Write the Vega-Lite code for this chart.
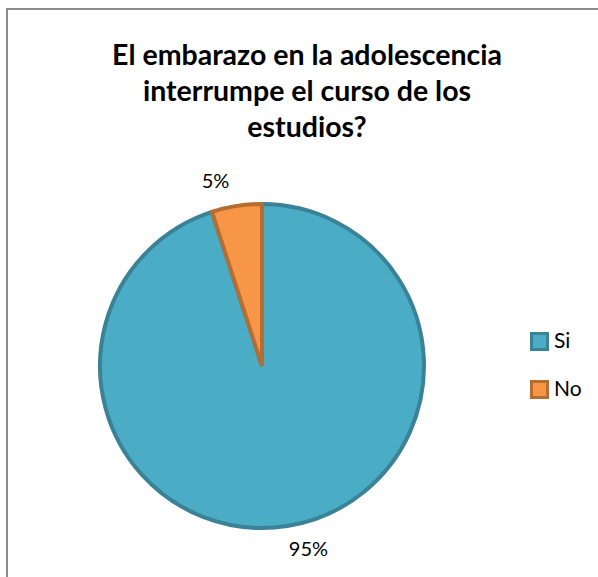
{
  "$schema": "https://vega.github.io/schema/vega-lite/v6.json",
  "width": 600,
  "height": 600,
  "autosize": "none",
  "padding": {"left": 7, "top": 9, "right": 0, "bottom": 0},
  "background": "white",
  "view": {"stroke": "#8c8c8c", "strokeWidth": 2},
  "config": {
    "legend": {
      "orient": "none",
      "legendX": 522,
      "legendY": 322,
      "padding": 0,
      "symbolType": "square",
      "symbolSize": 256,
      "symbolStrokeWidth": 3,
      "labelFont": "Lato",
      "labelFontSize": 21,
      "labelColor": "#000000",
      "labelOffset": 4,
      "rowPadding": 19,
      "title": null
    }
  },
  "title": {
    "text": ["El embarazo en la adolescencia", "interrumpe el curso de los", "estudios?"],
    "font": "Lato",
    "fontSize": 28.5,
    "fontWeight": "bold",
    "color": "#000000",
    "lineHeight": 36,
    "anchor": "middle",
    "baseline": "top",
    "offset": -133
  },
  "data": {
    "values": [
      {"answer": "Si", "value": 95, "label": "95%", "order": 1},
      {"answer": "No", "value": 5, "label": "5%", "order": 2}
    ]
  },
  "encoding": {
    "theta": {"field": "value", "type": "quantitative", "stack": true},
    "order": {"field": "order", "type": "quantitative"}
  },
  "layer": [
    {
      "mark": {"type": "arc", "outerRadius": 162, "strokeWidth": 4, "x": 255, "y": 357},
      "encoding": {
        "color": {
          "field": "answer",
          "type": "nominal",
          "scale": {"domain": ["Si", "No"], "range": ["#4BACC6", "#F79646"]}
        },
        "stroke": {
          "field": "answer",
          "type": "nominal",
          "scale": {"domain": ["Si", "No"], "range": ["#3A8297", "#B66D31"]}
        }
      }
    },
    {
      "mark": {"type": "text", "radius": 190, "thetaOffset": -0.09, "x": 255, "y": 357, "font": "Lato", "fontSize": 20, "color": "#000000"},
      "encoding": {
        "text": {"field": "label", "type": "nominal"}
      }
    }
  ]
}
